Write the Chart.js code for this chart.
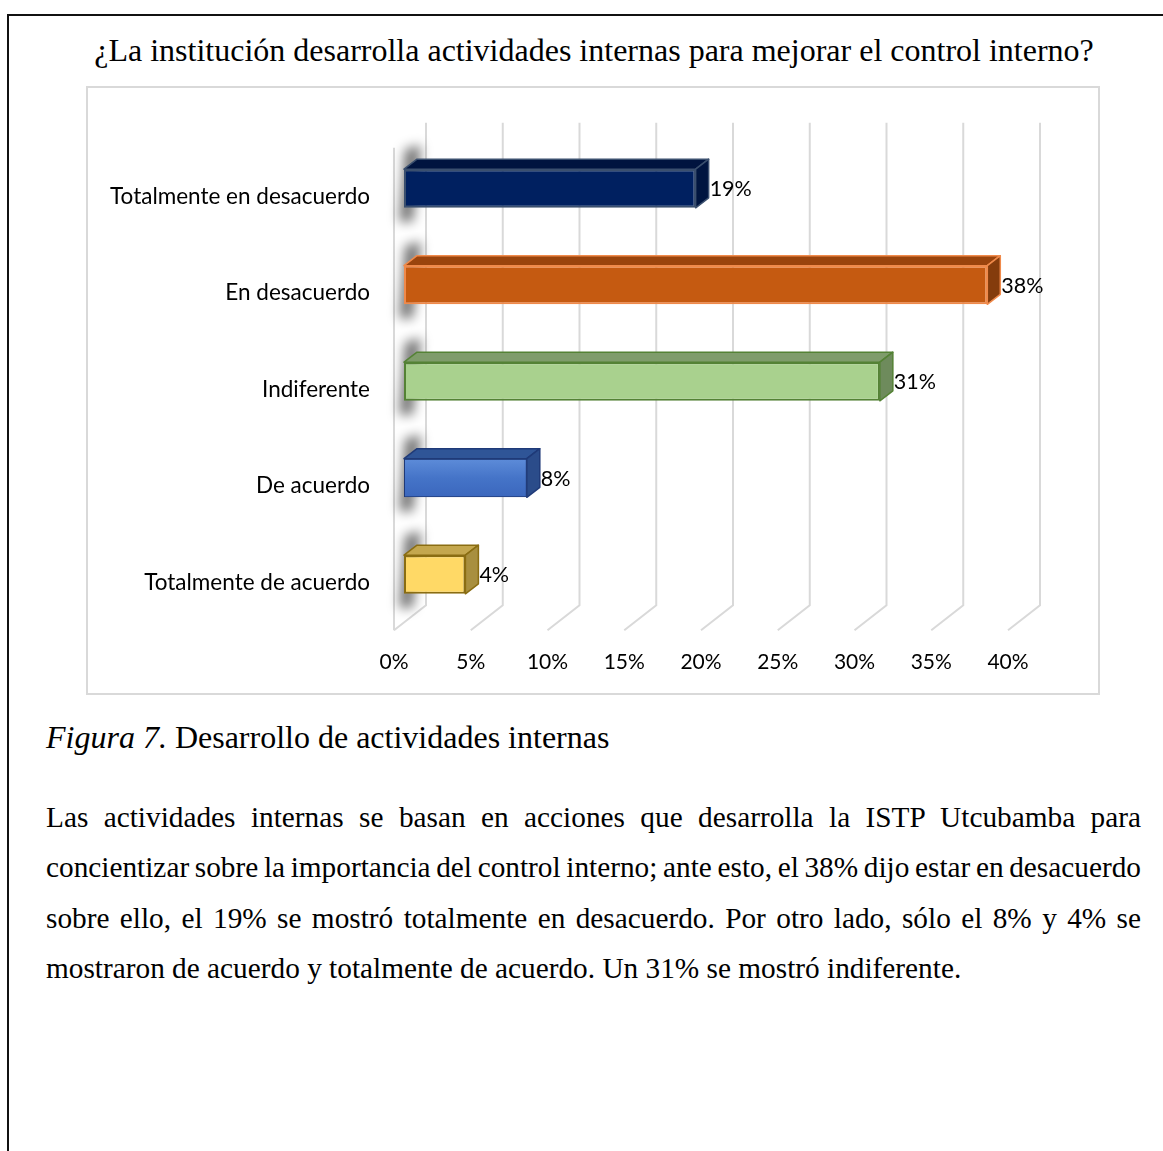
<!DOCTYPE html>
<html lang="es">
<head>
<meta charset="utf-8">
<title>Desarrollo de actividades internas</title>
<script src="https://cdn.jsdelivr.net/npm/chart.js@4.4.1/dist/chart.umd.min.js"></script>
<style>
  html, body { margin: 0; padding: 0; background: #fff; }
  body { width: 1163px; height: 1151px; overflow: hidden; position: relative;
         font-family: "Liberation Serif", "Times New Roman", serif; color: #000; }
  .marco { position: absolute; left: 7px; top: 14px; width: 1200px; height: 1200px; border: 2.5px solid #111; }
  .titulo { position: absolute; left: 86px; width: 1016px; top: 30px; text-align: center;
            font-size: 32px; line-height: 40px; white-space: nowrap; }
  .grafico { position: absolute; left: 86px; top: 86px; width: 1014px; height: 609px;
             border: 2px solid #d9d9d9; box-sizing: border-box; }
  .grafico canvas { display: block; }
  .leyenda { position: absolute; left: 46px; top: 717px; font-size: 32px; line-height: 40px; white-space: nowrap; }
  .texto { position: absolute; left: 46px; top: 791.8px; width: 1095px; font-size: 29.3px; line-height: 50.4px; }
  .texto span { display: block; text-align: justify; text-align-last: justify; }
  .texto span.ultima { text-align-last: left; }
</style>
</head>
<body>
<div class="marco"></div>
<div class="titulo">¿La institución desarrolla actividades internas para mejorar el control interno?</div>
<div class="grafico"><canvas id="grafico-actividades" width="1010" height="605"></canvas></div>
<div class="leyenda"><i>Figura 7.</i> Desarrollo de actividades internas</div>
<div class="texto">
  <span>Las actividades internas se basan en acciones que desarrolla la ISTP Utcubamba para</span>
  <span>concientizar sobre la importancia del control interno; ante esto, el 38% dijo estar en desacuerdo</span>
  <span>sobre ello, el 19% se mostró totalmente en desacuerdo. Por otro lado, sólo el 8% y 4% se</span>
  <span class="ultima">mostraron de acuerdo y totalmente de acuerdo. Un 31% se mostró indiferente.</span>
</div>
<script>
const categorias = ['Totalmente en desacuerdo', 'En desacuerdo', 'Indiferente', 'De acuerdo', 'Totalmente de acuerdo'];
const porcentajes = [19, 38, 31, 8, 4];
const valoresEje = [0, 5, 10, 15, 20, 25, 30, 35, 40];
const etiquetasEje = ['0%', '5%', '10%', '15%', '20%', '25%', '30%', '35%', '40%'];

// caras de cada barra: frente, tapa superior, lateral y contorno
const colorFrente = ['#002060', '#c55a11', '#a9d18e', '#4878cc', '#ffd966'];
const colorTapa = ['#00143f', '#9a440d', '#7f9c6b', '#2f5597', '#c4a74e'];
const colorLado = ['#001540', '#843c0c', '#6e8b5c', '#2b4c8a', '#a88f3f'];
const colorBorde = ['#3a4f6e', '#f08a4b', '#548235', '#1f3a78', '#8a6d12'];
// degradado vertical del frente (solo la barra azul lo lleva)
const degradadoFrente = [null, null, null, ['#5d8cd9', '#4574c8', '#3b67bd'], null];

const familia = 'Lato, "Noto Sans", sans-serif';
const fuenteCategorias = { family: familia, size: 22.5 };
const fuenteEje = { family: familia, size: 21 };
const fuenteValores = { family: familia, size: 21.5 };

// profundidad de la barra y del piso (perspectiva tipo 3D)
const prof = { dx: 13, dy: -10 };
const piso = { dx: 32, dy: -25 };
const adelanto = { dx: 10, dy: 7.5 };   // del plano de las barras al borde frontal

// las líneas que no caben se comprimen reduciendo el espacio entre palabras
(function ajustarParrafo() {
  const caja = document.querySelector('.texto');
  const ancho = caja.clientWidth;
  const medidor = document.createElement('canvas').getContext('2d');
  medidor.font = getComputedStyle(caja).fontSize + ' "Liberation Serif", "Times New Roman", serif';
  caja.querySelectorAll('span').forEach(linea => {
    const texto = linea.textContent;
    const natural = medidor.measureText(texto).width;
    const espacios = (texto.match(/ /g) || []).length;
    if (natural > ancho - 1 && espacios) {
      linea.style.wordSpacing = (-(natural - ancho + 3) / espacios) + 'px';
    }
  });
})();

const efecto3d = {
  id: 'efecto3d',
  beforeDatasetsDraw(chart) {
    const { ctx, chartArea, scales: { x } } = chart;
    const fondoSup = chartArea.top + adelanto.dy + piso.dy;
    const fondoInf = chartArea.bottom + adelanto.dy + piso.dy;
    const frenteInf = chartArea.bottom + adelanto.dy;
    ctx.save();
    ctx.strokeStyle = '#d9d9d9';
    ctx.lineWidth = 2;
    // arista frontal de la pared izquierda
    const x0 = x.getPixelForValue(0) - adelanto.dx;
    ctx.beginPath();
    ctx.moveTo(x0, chartArea.top + adelanto.dy);
    ctx.lineTo(x0, frenteInf);
    ctx.stroke();
    // líneas de la pared del fondo y del piso
    valoresEje.forEach(v => {
      const xf = x.getPixelForValue(v) - adelanto.dx + piso.dx;
      ctx.beginPath();
      ctx.moveTo(xf, fondoSup);
      ctx.lineTo(xf, fondoInf);
      ctx.lineTo(xf - piso.dx, fondoInf - piso.dy);
      ctx.stroke();
    });
    // sombras sobre la pared izquierda
    ctx.filter = 'blur(6px)';
    ctx.fillStyle = 'rgba(0,0,0,0.55)';
    chart.getDatasetMeta(0).data.forEach(bar => {
      const { y, base, height } = bar.getProps(['y', 'base', 'height'], true);
      const t = y - height / 2, b = y + height / 2;
      ctx.beginPath();
      ctx.moveTo(base + 1, t - 20);
      ctx.lineTo(base + 17, t - 24);
      ctx.lineTo(base + 9, b + 14);
      ctx.lineTo(base - 5, b + 14);
      ctx.closePath();
      ctx.fill();
    });
    ctx.restore();
  },
  afterDatasetsDraw(chart) {
    const { ctx } = chart;
    ctx.save();
    ctx.lineWidth = 1.5;
    ctx.lineJoin = 'round';
    chart.getDatasetMeta(0).data.forEach((bar, i) => {
      const { x, y, base, height } = bar.getProps(['x', 'y', 'base', 'height'], true);
      const t = y - height / 2, b = y + height / 2;
      ctx.strokeStyle = colorBorde[i];
      // frente con degradado, si lo tiene
      if (degradadoFrente[i]) {
        const paradas = degradadoFrente[i];
        const g = ctx.createLinearGradient(0, t, 0, b);
        paradas.forEach((c, k) => g.addColorStop(k / (paradas.length - 1), c));
        ctx.fillStyle = g;
        ctx.fillRect(base + 1, t + 1, x - base - 2, b - t - 2);
      }
      // tapa superior
      ctx.fillStyle = colorTapa[i];
      ctx.beginPath();
      ctx.moveTo(base, t);
      ctx.lineTo(base + prof.dx, t + prof.dy);
      ctx.lineTo(x + prof.dx, t + prof.dy);
      ctx.lineTo(x, t);
      ctx.closePath();
      ctx.fill();
      ctx.stroke();
      // cara lateral
      ctx.fillStyle = colorLado[i];
      ctx.beginPath();
      ctx.moveTo(x, t);
      ctx.lineTo(x + prof.dx, t + prof.dy);
      ctx.lineTo(x + prof.dx, b + prof.dy);
      ctx.lineTo(x, b);
      ctx.closePath();
      ctx.fill();
      ctx.stroke();
      // etiqueta de valor
      ctx.fillStyle = '#000';
      ctx.font = fuenteValores.size + 'px ' + fuenteValores.family;
      ctx.textAlign = 'left';
      ctx.textBaseline = 'middle';
      ctx.fillText(porcentajes[i] + '%', x + prof.dx + 1, y + 1);
    });
    ctx.restore();
  }
};

new Chart(document.getElementById('grafico-actividades'), {
  type: 'bar',
  data: {
    labels: categorias,
    datasets: [{
      data: porcentajes,
      backgroundColor: colorFrente,
      borderColor: colorBorde,
      borderWidth: 2,
      borderSkipped: false,
      categoryPercentage: 1,
      barPercentage: 0.4
    }]
  },
  options: {
    indexAxis: 'y',
    responsive: false,
    animation: false,
    events: [],
    layout: { padding: { top: 52.25, right: 80, left: 0, bottom: 0 } },
    plugins: { legend: { display: false }, tooltip: { enabled: false } },
    scales: {
      x: {
        min: 0,
        max: 40,
        afterFit(scale) { scale.height = 70.25; },
        afterBuildTicks(scale) { scale.ticks = valoresEje.map(v => ({ value: v })); },
        grid: { display: false, drawTicks: false },
        border: { display: false },
        ticks: {
          padding: 27,
          labelOffset: -10,
          color: '#000',
          font: fuenteEje,
          callback: (v, i) => etiquetasEje[i]
        }
      },
      y: {
        afterFit(scale) { scale.width = 316; },
        grid: { display: false, drawTicks: false },
        border: { display: false },
        ticks: { padding: 34, labelOffset: 8, color: '#000', font: fuenteCategorias }
      }
    }
  },
  plugins: [efecto3d]
});
</script>
</body>
</html>
